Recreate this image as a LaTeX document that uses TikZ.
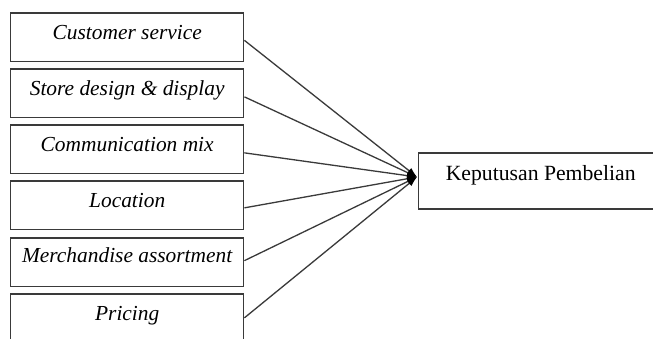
\documentclass[tikz,border=0pt]{standalone}
\usepackage{fontspec}
\setmainfont{Liberation Serif}
\usetikzlibrary{arrows.meta}
\definecolor{edgegray}{HTML}{3A3A3A}
\tikzset{
  leftbox/.style={draw=edgegray, line width=1.4pt, rectangle, minimum width=233pt, minimum height=48.7pt,
    inner sep=0pt, font=\fontsize{21.4pt}{24pt}\selectfont\itshape, text height=14pt, text depth=9pt, anchor=north west},
  rightbox/.style={draw=edgegray, line width=1.4pt, rectangle, minimum width=244pt, minimum height=56pt,
    inner sep=0pt, font=\fontsize{21.7pt}{24pt}\selectfont, text height=15pt, text depth=15pt, anchor=north west},
  conn/.style={draw=edgegray, line width=1.3pt, -{Latex[length=10pt,width=7pt,black]}}
}
\begin{document}
\begin{tikzpicture}[x=1pt,y=-1pt]
\useasboundingbox (0,0) rectangle (653,339);
\clip (0,0) rectangle (653,339);
\fill[white] (0,0) rectangle (653,339);
\node[leftbox] (b1) at (10,12.3) {Customer service};
\node[leftbox] (b2) at (10,68.3) {Store design \& display};
\node[leftbox] (b3) at (10,124.3) {Communication mix};
\node[leftbox] (b4) at (10,180.3) {Location};
\node[leftbox, text depth=14pt] (b5) at (10,237.3) {Merchandise assortment};
\node[leftbox] (b6) at (10,293.3) {Pricing};
\node[rightbox] (kp) at (418,152.3) {Keputusan Pembelian};
\coordinate (tip) at (417,177);
\draw[conn] ([yshift=-3pt]b1.east) -- (tip);
\draw[conn] ([yshift=-3.5pt]b2.east) -- (tip);
\draw[conn] ([yshift=-3.5pt]b3.east) -- (tip);
\draw[conn] ([yshift=-2.5pt]b4.east) -- (tip);
\draw[conn] ([yshift=1.7pt]b5.east) -- (tip);
\draw[conn] ([yshift=0.5pt]b6.east) -- (tip);
\end{tikzpicture}
\end{document}
